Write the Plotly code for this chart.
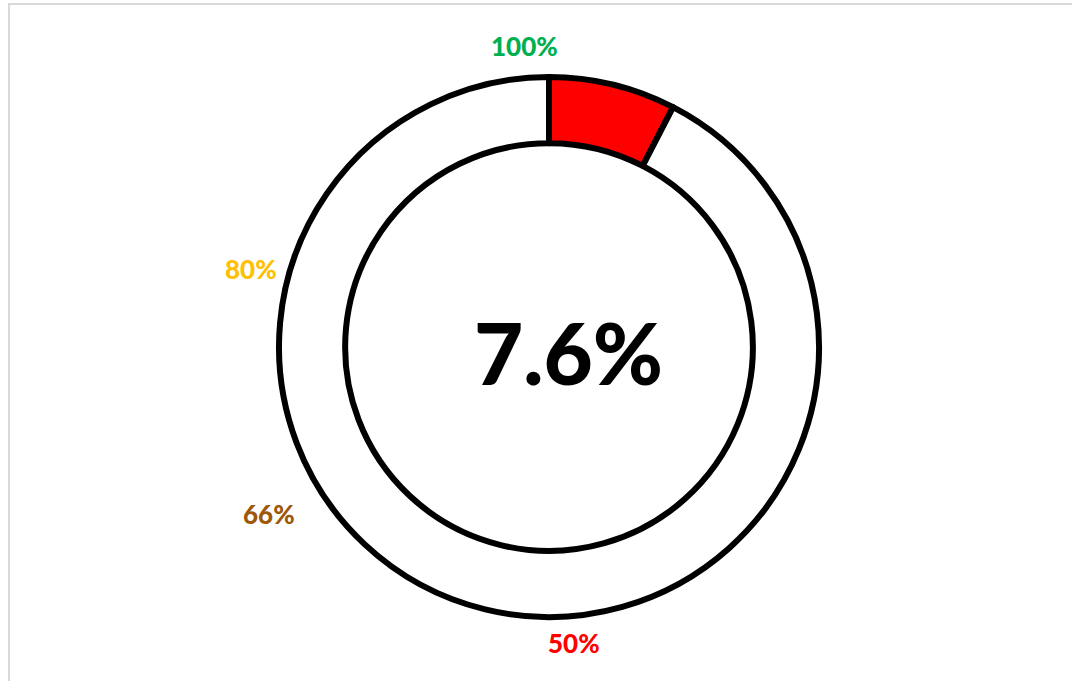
import math
import plotly.graph_objects as go

# Gauge value (percent) and the scale marks placed around the ring
value_pct = 7.6
mark_values = [100, 80, 66, 50]
mark_texts = ["100%", "80%", "66%", "50%"]
mark_colors = ["#00B050", "#FFC000", "#9C5708", "#FF0000"]

# Small angular nudges (deg) and distances (px) for the scale labels
mark_nudge = [-4.7, -3.3, 1.6, -4.8]
mark_radius = [302, 308, 326, 297]

W, H = 1072, 681
cx, cy, R = 549, 347, 270  # ring centre and outer radius in pixels

fig = go.Figure(
    go.Pie(
        values=[value_pct, 100 - value_pct],
        labels=["value", "rest"],
        marker=dict(colors=["#FF0000", "#FFFFFF"], line=dict(color="#000000", width=6)),
        hole=0.755,
        sort=False,
        direction="clockwise",
        rotation=0,
        textinfo="none",
        hoverinfo="skip",
        showlegend=False,
        domain=dict(x=[(cx - R) / W, (cx + R) / W], y=[(H - cy - R) / H, (H - cy + R) / H]),
    )
)

annotations = []
for v, t, c, nd, r in zip(mark_values, mark_texts, mark_colors, mark_nudge, mark_radius):
    a = math.radians(v * 3.6 + nd)
    px = cx + r * math.sin(a)
    py = cy - r * math.cos(a)
    annotations.append(dict(
        x=px / W, y=1 - py / H, xref="paper", yref="paper",
        text=t, showarrow=False, xanchor="center", yanchor="middle",
        font=dict(family="Lato", size=26, color=c, weight=900),
    ))

annotations.append(dict(
    x=568 / W, y=1 - 352 / H, xref="paper", yref="paper",
    text=f"{value_pct}%", showarrow=False, xanchor="center", yanchor="middle",
    font=dict(family="Lato", size=85, color="#000000", weight=900),
))

fig.update_layout(
    width=W, height=H,
    margin=dict(l=0, r=0, t=0, b=0),
    paper_bgcolor="#FFFFFF",
    plot_bgcolor="#FFFFFF",
    annotations=annotations,
    shapes=[dict(
        type="rect", xref="paper", yref="paper",
        x0=9 / W, x1=1.02, y0=-0.02, y1=1 - 4 / H,
        line=dict(color="#D9D9D9", width=2), fillcolor="rgba(0,0,0,0)", layer="above",
    )],
)

fig.write_html("out.html")
